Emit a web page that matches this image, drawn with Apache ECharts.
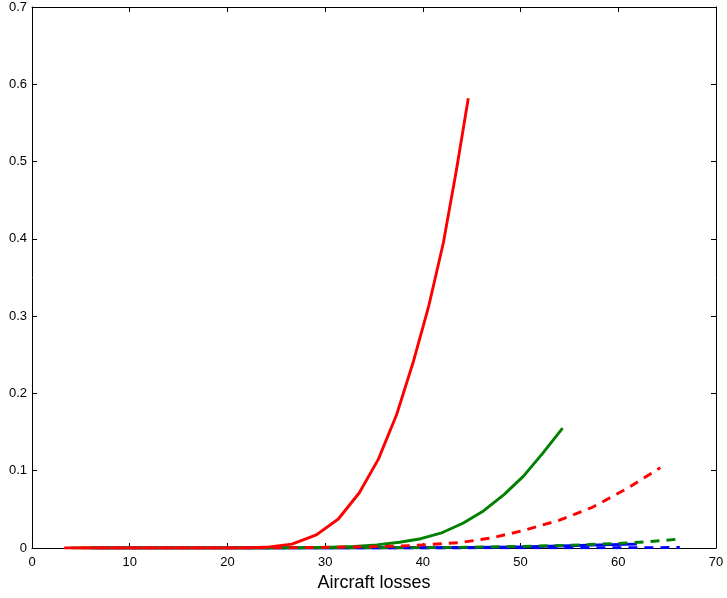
<!DOCTYPE html>
<html>
<head>
<meta charset="utf-8">
<script src="https://cdn.jsdelivr.net/npm/echarts@6/dist/echarts.min.js"></script>
<style>html,body{margin:0;padding:0;background:#fff}#c{width:727px;height:598px}</style>
</head>
<body>
<div id="c"></div>
<script>
const xTicks = [0, 10, 20, 30, 40, 50, 60, 70];
const yTicks = [0, 0.1, 0.2, 0.3, 0.4, 0.5, 0.6, 0.7];

const redSolidX = [3.3, 5.7, 8.0, 10.4, 12.7, 15.0, 17.4, 19.7, 22.0, 24.3, 26.6, 29.1, 31.35, 33.5, 35.45, 37.3, 39.0, 40.6, 42.1, 43.45, 44.65];
const redSolidY = [0, 0, 0, 0, 0, 0, 0, 0, 0.0002, 0.0015, 0.005, 0.017, 0.0375, 0.0715, 0.115, 0.172, 0.24, 0.313, 0.395, 0.49, 0.582];

const greenSolidX = [4.0, 8.0, 12.0, 16.0, 20.0, 23.5, 25.9, 28.3, 30.7, 33.0, 35.3, 37.6, 39.8, 42.0, 44.1, 46.2, 48.3, 50.3, 52.3, 54.3];
const greenSolidY = [0, 0, 0, 0, 0, 0, 0.0002, 0.0005, 0.001, 0.002, 0.004, 0.0075, 0.012, 0.02, 0.032, 0.048, 0.069, 0.093, 0.123, 0.155];

const redDashX = [5.0, 10.0, 15.0, 20.0, 25.0, 30.0, 35.0, 37.7, 40.0, 43.8, 47.0, 50.1, 54.0, 57.4, 60.9, 64.3];
const redDashY = [0, 0, 0, 0, 0.0002, 0.0008, 0.0018, 0.0025, 0.004, 0.007, 0.013, 0.022, 0.036, 0.053, 0.077, 0.104];

const greenDashX = [6.0, 10.0, 20.0, 30.0, 40.0, 45.0, 50.0, 55.0, 60.0, 63.0, 66.3];
const greenDashY = [0, 0, 0, 0, 0.0005, 0.001, 0.002, 0.0035, 0.006, 0.008, 0.0116];

const blueSolidX = [6.0, 10.0, 20.0, 30.0, 40.0, 45.0, 50.0, 55.0, 58.0, 61.9];
const blueSolidY = [0, 0, 0, 0, 0.0003, 0.0007, 0.0015, 0.003, 0.004, 0.005];

const blueDashX = [7.0, 20.0, 30.0, 40.0, 50.0, 60.0, 66.3];
const blueDashY = [0, 0, 0, 0, 0.0002, 0.0004, 0.0006];

function pairs(xs, ys) { return xs.map((x, i) => [x, ys[i]]); }

const font = 'Liberation Sans, Arial, Helvetica, sans-serif';
const chart = echarts.init(document.getElementById('c'), null, {renderer: 'canvas'});

function lineSeries(name, xs, ys, color, dashed) {
  return {
    name: name, type: 'line', data: pairs(xs, ys), showSymbol: false, symbol: 'none',
    lineStyle: {color: color, width: 2.9, type: dashed ? [9, 7] : 'solid', cap: 'butt', join: 'round'},
    itemStyle: {color: color}, animation: false, z: 2
  };
}

const axisCommon = {
  axisLine: {show: true, onZero: false, lineStyle: {color: '#000', width: 1}},
  axisTick: {show: true, inside: true, length: 5, lineStyle: {color: '#000', width: 1}},
  splitLine: {show: false}
};

chart.setOption({
  backgroundColor: '#fff',
  animation: false,
  grid: {left: 32, right: 11, top: 7, bottom: 50, containLabel: false},
  xAxis: [
    Object.assign({
      type: 'value', min: xTicks[0], max: xTicks[xTicks.length - 1], interval: 10, position: 'bottom',
      name: 'Aircraft losses', nameLocation: 'middle', nameGap: 24,
      nameTextStyle: {color: '#000', fontSize: 18, fontFamily: font},
      axisLabel: {color: '#000', fontSize: 13, fontFamily: font, margin: 8}
    }, axisCommon),
    Object.assign({
      type: 'value', min: xTicks[0], max: xTicks[xTicks.length - 1], interval: 10, position: 'top',
      axisLabel: {show: false}
    }, axisCommon)
  ],
  yAxis: [
    Object.assign({
      type: 'value', min: yTicks[0], max: yTicks[yTicks.length - 1], interval: 0.1, position: 'left',
      axisLabel: {color: '#000', fontSize: 13, fontFamily: font, margin: 5,
        formatter: v => (Math.round(v * 10) / 10).toString()}
    }, axisCommon),
    Object.assign({
      type: 'value', min: yTicks[0], max: yTicks[yTicks.length - 1], interval: 0.1, position: 'right',
      axisLabel: {show: false}
    }, axisCommon)
  ],
  series: [
    lineSeries('blueSolid', blueSolidX, blueSolidY, '#0000ff', false),
    lineSeries('blueDash', blueDashX, blueDashY, '#0000ff', true),
    lineSeries('greenDash', greenDashX, greenDashY, '#008000', true),
    lineSeries('greenSolid', greenSolidX, greenSolidY, '#008000', false),
    lineSeries('redDash', redDashX, redDashY, '#ff0000', true),
    lineSeries('redSolid', redSolidX, redSolidY, '#ff0000', false)
  ]
});
</script>
</body>
</html>
